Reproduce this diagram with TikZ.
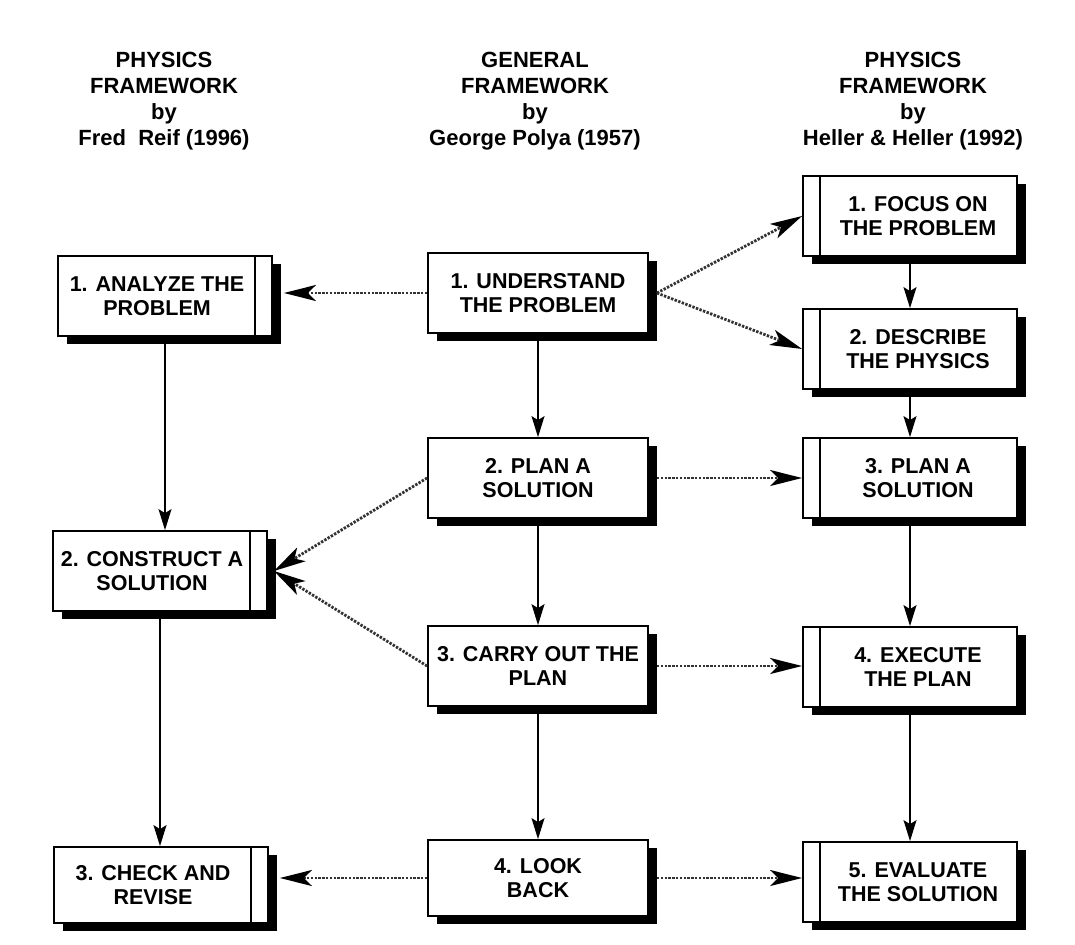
\documentclass[tikz,border=0pt]{standalone}
\usepackage{fontspec}
\setmainfont{Liberation Sans}
\usetikzlibrary{arrows.meta,shadows}

% text of the boxes: room left for the side bar
\newcommand{\rtxt}[1]{\parbox{184pt}{\centering #1}\hspace*{16pt}}
\newcommand{\htxt}[1]{\hspace*{16pt}\parbox{184pt}{\centering #1}}

\tikzset{
  hdr/.style={anchor=north, align=center, inner sep=0pt, font=\bfseries\fontsize{22}{26}\selectfont},
  box/.style={draw, line width=1.8pt, fill=white, minimum height=80pt, inner sep=0pt,
    font=\bfseries\fontsize{21.5}{24}\selectfont,
    drop shadow={shadow xshift=9pt, shadow yshift=-8pt, fill=black, opacity=1}},
  reifbox/.style={box, minimum width=214pt,
    path picture={\draw[line width=1.6pt] ([xshift=-17pt]path picture bounding box.north east) -- ([xshift=-17pt]path picture bounding box.south east);}},
  hellerbox/.style={box, minimum width=214pt,
    path picture={\draw[line width=1.6pt] ([xshift=17pt]path picture bounding box.north west) -- ([xshift=17pt]path picture bounding box.south west);}},
  polyabox/.style={box, minimum width=220pt, align=center},
  flow/.style={-{Stealth[length=21pt,width=13pt,inset=4pt]}, line width=1.4pt},
  link/.style={-{Stealth[length=32pt,width=16pt,inset=8pt,color=black]}, line width=2.8pt,
    dash pattern=on 2.4pt off 1.4pt, draw=black!80}
}

\begin{document}
\begin{tikzpicture}[x=1pt,y=-1pt]
  \useasboundingbox (0,0) rectangle (1075,944);

  % Headers
  \node[hdr] (hdrreif) at (164,52) {PHYSICS\\FRAMEWORK\\by\\Fred\ \ Reif (1996)};
  \node[hdr] (hdrpolya) at (535,52) {GENERAL\\FRAMEWORK\\by\\George Polya (1957)};
  \node[hdr] (hdrheller) at (913,52) {PHYSICS\\FRAMEWORK\\by\\Heller \& Heller (1992)};

  % Reif
  \node[reifbox] (analyze) at (165,296) {\rtxt{1. ANALYZE THE\\PROBLEM}};
  \node[reifbox] (construct) at (160,571) {\rtxt{2. CONSTRUCT A\\SOLUTION}};
  \node[reifbox, minimum height=76pt] (check) at (161,885) {\rtxt{3. CHECK AND\\REVISE}};

  % Polya
  \node[polyabox] (understand) at (538,293) {1. UNDERSTAND\\THE PROBLEM};
  \node[polyabox] (plan) at (538,478) {2. PLAN A\\SOLUTION};
  \node[polyabox] (carry) at (538,666) {3. CARRY OUT THE\\PLAN};
  \node[polyabox, minimum height=76pt] (look) at (538,878) {4. LOOK\\BACK};

  % Heller & Heller
  \node[hellerbox] (focus) at (910,216) {\htxt{1. FOCUS ON\\THE PROBLEM}};
  \node[hellerbox] (describe) at (910,349) {\htxt{2. DESCRIBE\\THE PHYSICS}};
  \node[hellerbox] (hplan) at (910,478) {\htxt{3. PLAN A\\SOLUTION}};
  \node[hellerbox] (execute) at (910,667) {\htxt{4. EXECUTE\\THE PLAN}};
  \node[hellerbox] (evaluate) at (910,882) {\htxt{5. EVALUATE\\THE SOLUTION}};

  % steps inside each framework
  \draw[flow] (analyze.south) -- (analyze.south |- construct.north);
  \draw[flow] (construct.south) -- (construct.south |- check.north);
  \draw[flow] (understand) -- (plan);
  \draw[flow] (plan) -- (carry);
  \draw[flow] (carry) -- (look);
  \draw[flow] (focus) -- (describe);
  \draw[flow] (describe) -- (hplan);
  \draw[flow] (hplan) -- (execute);
  \draw[flow] (execute) -- (evaluate);

  % links between frameworks
  \draw[link] (understand.west) -- ([xshift=11pt]understand.west -| analyze.east);
  \draw[link] ([xshift=8pt]understand.east) -- (focus.west);
  \draw[link] ([xshift=8pt]understand.east) -- (describe.west);
  \draw[link] (plan.west) -- ([xshift=6pt]construct.east);
  \draw[link] (carry.west) -- ([xshift=6pt]construct.east);
  \draw[link] ([xshift=8pt]plan.east) -- (hplan.west);
  \draw[link] ([xshift=8pt]carry.east) -- (carry.east -| execute.west);
  \draw[link] (look.west) -- ([xshift=11pt]look.west -| check.east);
  \draw[link] ([xshift=8pt]look.east) -- (look.east -| evaluate.west);
\end{tikzpicture}
\end{document}
